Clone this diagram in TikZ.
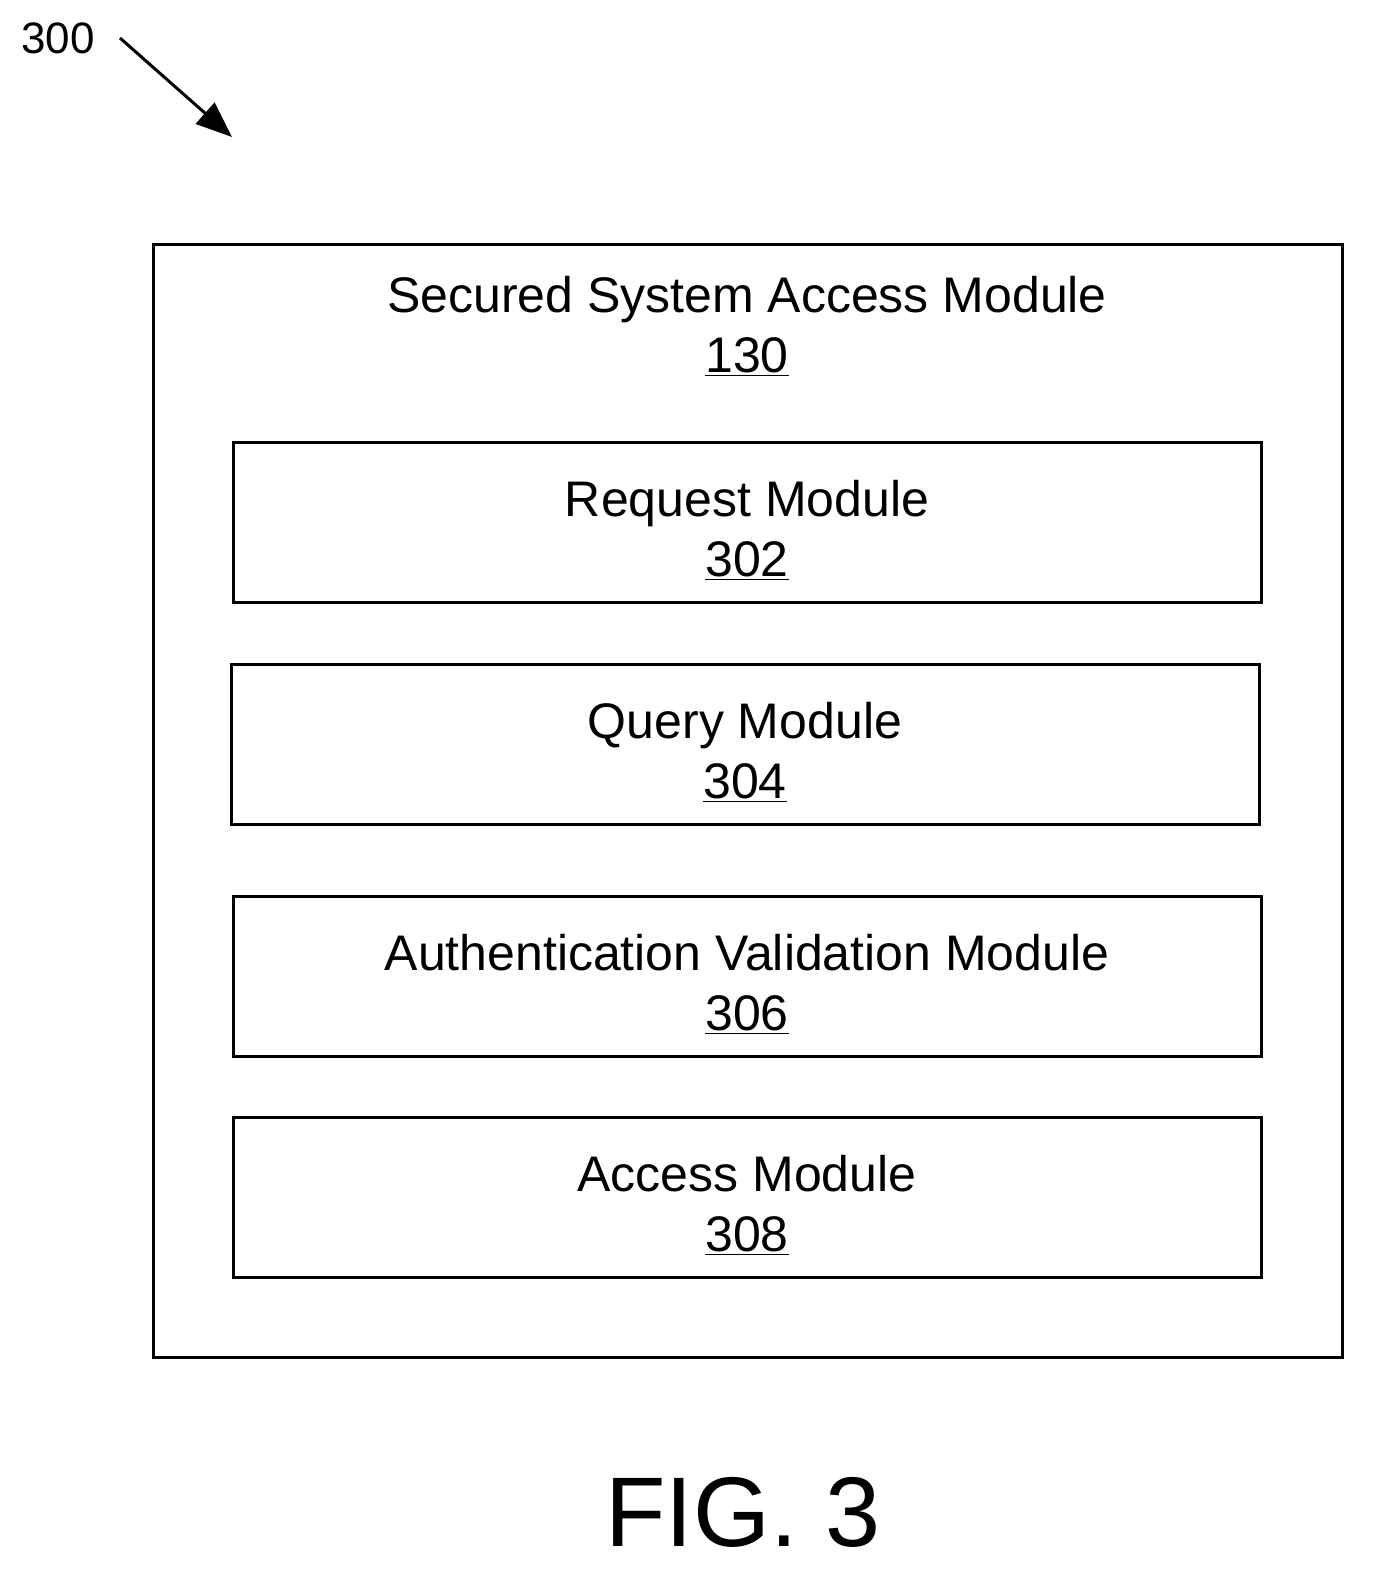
\documentclass[tikz,border=0pt]{standalone}
\usepackage{fontspec}
\setmainfont{Liberation Sans}
\usetikzlibrary{arrows.meta}
\begin{document}
\begin{tikzpicture}[x=1pt,y=-1pt,
  box/.style={draw,line width=3pt},
  lbl/.style={align=center,font=\fontsize{50}{60}\selectfont,inner sep=0pt}]
\useasboundingbox (0,0) rectangle (1386,1595);
\node[box,minimum width=1189pt,minimum height=1113pt,anchor=north west] (outer) at (152,243) {};
\node[lbl] (t) at (747,326) {Secured System Access Module\\\underline{130}};
\node[box,minimum width=1028pt,minimum height=160pt] (m1) at (747,522) {};
\node[lbl] at ([yshift=-8pt]m1.center) {Request Module\\\underline{302}};
\node[box,minimum width=1028pt,minimum height=160pt] (m2) at (745,744) {};
\node[lbl] at ([yshift=-8pt]m2.center) {Query Module\\\underline{304}};
\node[box,minimum width=1028pt,minimum height=160pt] (m3) at (747,976) {};
\node[lbl] at ([yshift=-8pt]m3.center) {Authentication Validation Module\\\underline{306}};
\node[box,minimum width=1028pt,minimum height=160pt] (m4) at (747,1197) {};
\node[lbl] at ([yshift=-8pt]m4.center) {Access Module\\\underline{308}};
\node[font=\fontsize{44}{50}\selectfont,inner sep=0pt] (n300) at (58,38) {300};
\coordinate (tip) at (232,137);
\draw[line width=3pt,-{Triangle[length=36pt,width=28pt]}] (120,38) -- (tip);
\node[font=\fontsize{99}{110}\selectfont,inner sep=0pt] (fig) at (743,1512) {FIG. 3};
\end{tikzpicture}
\end{document}
